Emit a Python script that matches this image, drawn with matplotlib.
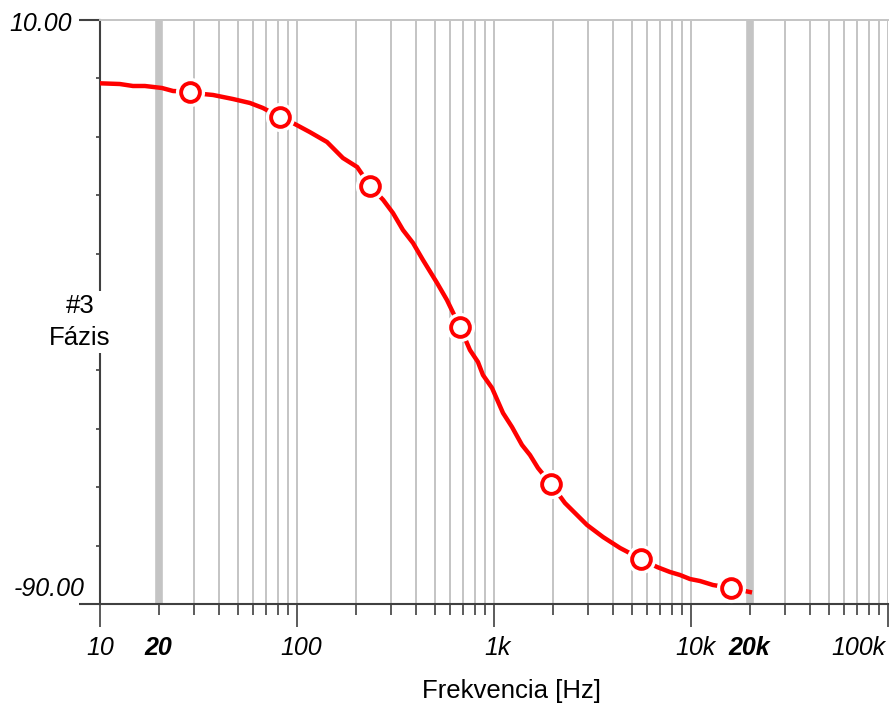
import numpy as np
import matplotlib
matplotlib.use("Agg")
import matplotlib.pyplot as plt
import matplotlib.transforms as mtransforms
from matplotlib.ticker import FixedLocator, NullFormatter

plt.rcParams['font.family'] = ['Liberation Sans', 'DejaVu Sans']

# ---- data ----
freq = [10, 12.6, 14.7, 16.9, 20.6, 23.5, 28.6, 33.3, 37.5, 47.3, 57.7, 67.2, 82.0,
        95.4, 116, 142, 171, 202, 235, 274, 307, 345, 388, 436, 514, 577, 672,
        755, 829, 879, 977, 1111, 1234, 1387, 1523, 1672, 1946, 2292, 2518, 2966,
        3576, 4364, 5574, 6719, 7820, 8790, 9880, 11100, 12940, 15970, 19900]
phase = [-0.84, -0.96, -1.30, -1.30, -1.64, -2.16, -2.28, -2.67, -2.84, -3.53, -4.21,
         -5.07, -6.61, -7.64, -9.18, -10.89, -13.63, -15.17, -18.42, -20.82, -23.05,
         -25.96, -28.18, -31.10, -35.03, -37.95, -42.57, -46.51, -48.56, -50.79,
         -53.01, -57.29, -59.69, -62.77, -64.49, -66.71, -69.45, -72.71, -74.08,
         -76.47, -78.53, -80.41, -82.29, -83.66, -84.52, -85.03, -85.72, -86.06,
         -86.75, -87.26, -87.95]
marker_freq = [28.6, 82.0, 235, 672, 1946, 5574, 15970]
marker_phase = [-2.28, -6.61, -18.42, -42.57, -69.45, -82.29, -87.26]

x_major = [10, 100, 1000, 10000, 100000]
x_major_labels = ["10", "100", "1k", "10k", "100k"]
x_special = [20, 20000]
x_special_labels = ["20", "20k"]
y_limits = [-90, 10]
y_labels = ["-90.00", "10.00"]
y_minor = [-80, -70, -60, -50, -40, -30, -20, -10, 0]

W, H = 890, 704
fig = plt.figure(figsize=(W / 100, H / 100), dpi=100)
ax = fig.add_axes([100 / W, (H - 604) / H, 788 / W, 584 / H])

ax.set_xscale('log')
ax.set_xlim(10, 100000)
ax.set_ylim(*y_limits)

grid_c = '#c4c4c4'
axis_c = '#404040'
FS = 18

# vertical grid lines
minor_pos = [m * 10 ** d for d in range(1, 5) for m in range(2, 10)]
for v in x_major + minor_pos:
    if v in x_special:
        continue
    ax.axvline(v, color=grid_c, lw=1.4, zorder=1)
for v in x_special:
    ax.axvline(v, color=grid_c, lw=5.5, zorder=1)

# curve
ax.plot(freq, phase, color='#ff0000', lw=3.2, zorder=3, solid_joinstyle='round')
ax.plot(marker_freq, marker_phase, 'o', ms=21, mfc='white', mec='white', mew=0, zorder=4)
ax.plot(marker_freq, marker_phase, 'o', ms=13.5, mfc='white', mec='#ff0000', mew=2.8, zorder=5)

# spines
ax.spines['right'].set_visible(False)
ax.spines['top'].set_color(grid_c)
ax.spines['top'].set_linewidth(1.4)
ax.spines['left'].set_color(axis_c)
ax.spines['left'].set_linewidth(1.5)
ax.spines['bottom'].set_color(axis_c)
ax.spines['bottom'].set_linewidth(1.5)

# ticks
ax.xaxis.set_major_locator(FixedLocator(x_major))
ax.xaxis.set_minor_locator(FixedLocator(minor_pos))
ax.xaxis.set_major_formatter(NullFormatter())
ax.xaxis.set_minor_formatter(NullFormatter())
ax.tick_params(axis='x', which='major', length=16.5, width=1.2, color=axis_c, direction='out')
ax.tick_params(axis='x', which='minor', length=8, width=1.2, color=axis_c, direction='out')

ax.yaxis.set_major_locator(FixedLocator(y_limits))
ax.yaxis.set_minor_locator(FixedLocator(y_minor))
ax.yaxis.set_major_formatter(NullFormatter())
ax.yaxis.set_minor_formatter(NullFormatter())
ax.tick_params(axis='y', which='major', length=15, width=1.5, color=axis_c, direction='out')
ax.tick_params(axis='y', which='minor', length=3, width=1.2, color=axis_c, direction='out')

# x tick labels
bt = mtransforms.blended_transform_factory(ax.transData, ax.transAxes)
for v, t in zip(x_major, x_major_labels):
    ha = 'right' if v == x_major[-1] else 'center'
    dx = -3 if v == x_major[-1] else (4 if v != x_major[0] else 0)
    tr = mtransforms.offset_copy(bt, fig=fig, x=dx, y=-44, units='dots')
    ax.text(v, 0, t, transform=tr, ha=ha, va='center', fontsize=FS,
            style='italic', color='black')
for v, t in zip(x_special, x_special_labels):
    tr = mtransforms.offset_copy(bt, fig=fig, x=-1, y=-44, units='dots')
    ax.text(v, 0, t, transform=tr, ha='center', va='center', fontsize=FS,
            style='italic', weight='bold', color='black')

# y tick labels
bty = mtransforms.blended_transform_factory(ax.transAxes, ax.transData)
tr_top = mtransforms.offset_copy(bty, fig=fig, x=-28, y=-4, units='dots')
ax.text(0, y_limits[1], y_labels[1], transform=tr_top, ha='right', va='center',
        fontsize=FS, style='italic')
tr_bot = mtransforms.offset_copy(bty, fig=fig, x=-15, y=15, units='dots')
ax.text(0, y_limits[0], y_labels[0], transform=tr_bot, ha='right', va='center',
        fontsize=FS, style='italic')

# axis labels
fig.text(511 / W, 1 - 691 / H, "Frekvencia [Hz]", ha='center', va='center', fontsize=18.5)
fig.text(80 / W, 1 - 322 / H, "#3\nFázis", ha='center', va='center', fontsize=18.5,
         linespacing=1.4, bbox=dict(facecolor='white', edgecolor='none', pad=2))

fig.savefig("out.png", dpi=100)
